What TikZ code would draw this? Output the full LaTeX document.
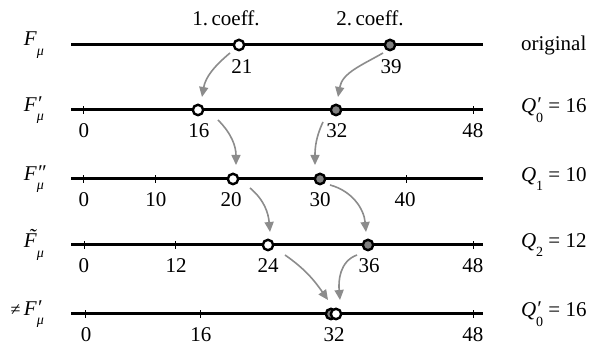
\documentclass[tikz,border=0pt]{standalone}
\usepackage{fontspec}
\setmainfont{Liberation Serif}
\usetikzlibrary{arrows.meta}

% symbol with a mark above and an index below
\newcommand\sym[3]{\textit{#1}\rlap{\raisebox{.05em}{#2}}\raisebox{-.45em}{\scriptsize #3}}
% tilde set over a capital
\newcommand\tildecap[1]{\rlap{\hspace{.22em}\raisebox{.18em}{˜}}\textit{#1}}

\begin{document}
\begin{tikzpicture}[x=.5pt,y=.5pt,font=\fontsize{10.5}{12}\selectfont,
  axis/.style={line width=1.5pt},
  tick/.style={line width=.5pt},
  dot/.style={circle,draw=black,line width=1.2pt,inner sep=0pt,minimum size=5.2pt},
  first/.style={dot,fill=white},
  second/.style={dot,fill=black!50},
  num/.style={inner sep=0pt},
  move/.style={draw=black!45,line width=.8pt,-{Triangle[length=5pt,width=4.5pt]}}]
\useasboundingbox (0,0) rectangle (607,346);

% headings
\node (h1) at (226,328) {1.\,coeff.};
\node (h2) at (370,328) {2.\,coeff.};

% original
\draw[axis] (71,301) -- (483,301);
\node[anchor=east] (l1) at (51,301) {\sym{F}{}{\textit{μ}}};
\node[anchor=west] (r1) at (514,301) {original};
\node[first] (d21) at (239,301) {};
\node[second] (d39) at (390,301) {};
\node[num] at (242,279) {21};
\node[num] at (391,279) {39};

% step 0
\draw[axis] (71,236) -- (483,236);
\draw[tick] (83,232) -- (83,240);
\draw[tick] (473,232) -- (473,240);
\node[anchor=east] (l2) at (51,236) {\sym{F}{\textit{′}}{\textit{μ}}};
\node[anchor=west] (r2) at (514,236) {\sym{Q}{\textit{′}}{0} = 16};
\node[first] (d16) at (198,236) {};
\node[second] (d32) at (336,236) {};
\node[num] at (84,215) {0};
\node[num] at (199,215) {16};
\node[num] at (337,215) {32};
\node[num] at (473,215) {48};

% step 1
\draw[axis] (71,167) -- (483,167);
\draw[tick] (83,163) -- (83,171);
\draw[tick] (155,163) -- (155,171);
\draw[tick] (406,163) -- (406,171);
\node[anchor=east] (l3) at (51,167) {\sym{F}{\textit{″}}{\textit{μ}}};
\node[anchor=west] (r3) at (514,167) {\sym{Q}{}{1} = 10};
\node[first] (d20) at (233,167) {};
\node[second] (d30) at (320,167) {};
\node[num] at (84,146) {0};
\node[num] at (156,146) {10};
\node[num] at (231,146) {20};
\node[num] at (320,146) {30};
\node[num] at (405,146) {40};

% step 2
\draw[axis] (71,101) -- (483,101);
\draw[tick] (84,97) -- (84,105);
\draw[tick] (175,97) -- (175,105);
\draw[tick] (473,97) -- (473,105);
\node[anchor=east] (l4) at (51,101) {\sym{\tildecap{F}}{}{\textit{μ}}};
\node[anchor=west] (r4) at (514,101) {\sym{Q}{}{2} = 12};
\node[first] (d24) at (268,101) {};
\node[second] (d36) at (368,101) {};
\node[num] at (84,80) {0};
\node[num] at (176,80) {12};
\node[num] at (268,80) {24};
\node[num] at (369,80) {36};
\node[num] at (473,80) {48};

% back to step 0
\draw[axis] (71,32) -- (483,32);
\draw[tick] (86,28) -- (86,36);
\draw[tick] (200,28) -- (200,36);
\draw[tick] (473,28) -- (473,36);
\node[anchor=east] (l5) at (51,32) {{\small ≠}\,\sym{F}{\textit{′}}{\textit{μ}}};
\node[anchor=west] (r5) at (514,32) {\sym{Q}{\textit{′}}{0} = 16};
\node[second] (d32b) at (331,32) {};
\node[first] (d32w) at (336,32) {};
\node[num] at (86,11) {0};
\node[num] at (201,11) {16};
\node[num] at (334,11) {32};
\node[num] at (473,11) {48};

% moves between rows
\draw[move] ([shift={(-9,-8)}]d21.center) to[out=220,in=80] ([shift={(4,13)}]d16.center);
\draw[move] ([shift={(-7,-8)}]d39.center) to[out=210,in=80] ([shift={(2,13)}]d32.center);
\draw[move] ([shift={(20,-10)}]d16.center) to[out=-45,in=90] ([shift={(3,14)}]d20.center);
\draw[move] ([shift={(-13,-12)}]d32.center) to[out=245,in=90] ([shift={(-5,14)}]d30.center);
\draw[move] ([shift={(17,-9)}]d20.center) to[out=-40,in=95] ([shift={(2,13)}]d24.center);
\draw[move] ([shift={(10,-6)}]d30.center) to[out=-15,in=95] ([shift={(-2,13)}]d36.center);
\draw[move] ([shift={(17,-10)}]d24.center) to[out=-35,in=125] ([shift={(-8,14)}]d32w.center);
\draw[move] ([shift={(-11,-10)}]d36.center) to[out=200,in=95] ([shift={(4,14)}]d32w.center);
\end{tikzpicture}
\end{document}
